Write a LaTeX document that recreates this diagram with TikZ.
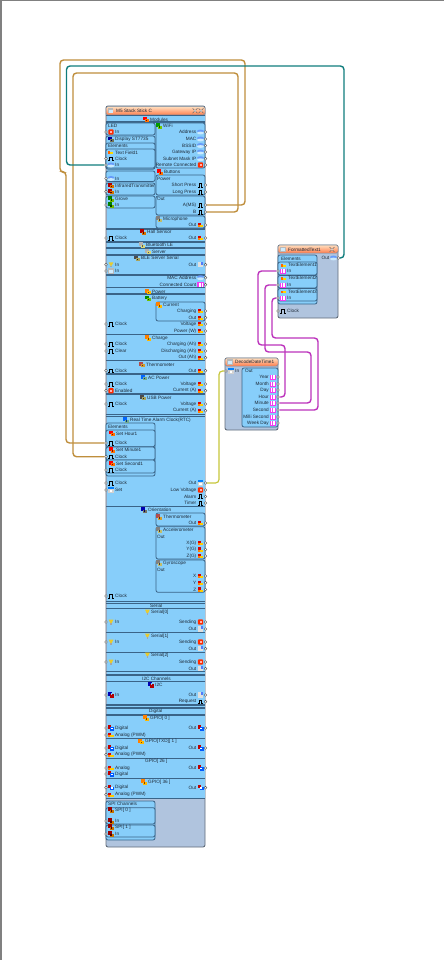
\documentclass[tikz,border=0pt]{standalone}
\usepackage{fontspec}
\setmainfont{Liberation Sans}
\usetikzlibrary{fit}

\definecolor{fond}{HTML}{B0C4DE}
\definecolor{ciel}{HTML}{87CEFA}
\definecolor{trait}{HTML}{3A6488}
\definecolor{texte}{HTML}{1E2A38}
\definecolor{filor}{HTML}{BF8E3C}
\definecolor{filvert}{HTML}{0F7C7C}
\definecolor{filmag}{HTML}{BC32BC}
\definecolor{filjaune}{HTML}{C6C63A}
\definecolor{magen}{HTML}{F23CF2}

% les icônes
\tikzset{
  pics/icoclk/.style={code={\draw[black, line width=.5pt] (-2.6,1.8)--(-1.3,1.8)--(-1.3,-1.8)--(.9,-1.8)--(.9,1.8)--(2.6,1.8);}},
  pics/icoana/.style={code={\fill[red!85!black] (-2.6,-2.2) rectangle (.4,.4); \fill[orange!40!yellow] (-1.6,0) rectangle (2.6,2.2); \fill[orange] (-2.6,.4) rectangle (-.6,2.2);}},
  pics/icodig/.style={code={\fill[red!75!black] (-3,-2.6) rectangle (.4,.6); \fill[blue!65!cyan] (-.8,-1.2) rectangle (3,2.6); \fill[white] (-.2,-.4) rectangle (1.8,1);}},
  pics/icotxt/.style={code={\fill[ciel!75!blue] (0,-.9) ellipse (3.4 and 1.5); \fill[ciel!45!white] (0,1) ellipse (3.4 and 1.4);}},
  pics/icobool/.style={code={\fill[red!65!orange, rounded corners=.8pt] (-2.6,-2.6) rectangle (2.6,2.6); \fill[white!70!red] (-.9,-1.2) rectangle (1.2,1.2);}},
  pics/icoint/.style={code={\fill[magen] (-3.2,-2.5) rectangle (3.2,2.5); \draw[white, line width=.4pt] (-1.6,-2) -- (-1.6,2) (0,-2) -- (0,2) (1.6,-2) -- (1.6,2);}},
  pics/icooct/.style={code={\fill[gray!25] (-2.6,-2.6) rectangle (2.6,2.6); \fill[ciel!60!blue] (.2,-2.6) rectangle (2.6,-.2);}},
  pics/icoser/.style={code={\fill[yellow!60!brown] (-2.4,-2.4) -- (2.4,-2.4) -- (.8,1) -- (-.8,1) -- cycle; \fill[gray!70] (-.7,.8) rectangle (.7,2.6);}},
  pics/icodate/.style={code={\fill[blue!50!cyan] (-2.6,-2.6) rectangle (2.6,-.6); \fill[gray!35] (-2.6,-.6) rectangle (2.6,2.6); \fill[white] (-1.4,.2) rectangle (1.4,1.6);}},
  pics/icoabc/.style={code={\fill[orange!80!red] (-3.6,-1) rectangle (-1.6,1.6); \fill[orange!30!yellow] (-1.2,-.4) rectangle (1.6,1.6);}},
  pics/icoi2c/.style={code={\fill[blue!70!black] (-3,-2.6) rectangle (1,1); \fill[red!70!black] (-1,-.6) rectangle (3,2.6); \fill[ciel] (-.4,-1.6) rectangle (.6,.4);}},
  pics/icosec/.style={code={\colorlet{icoc}{#1} \fill[icoc] (-3,-2.6) rectangle (.6,.8); \fill[icoc!55!yellow] (-1,-.4) rectangle (3,2.6); \fill[icoc!50!black] (-.6,.4) rectangle (.8,1.6);}},
  pics/icofen/.style={code={\fill[gray!55] (-2.8,-2.6) rectangle (2.8,2.6); \fill[ciel!40!white] (-2,-1.2) rectangle (2,1.8);}},
  pics/icoout/.style={code={\draw[gray!85!black, line width=.6pt] (-2.4,-2.4) -- (2.4,2.4) (-2.4,2.4) -- (2.4,-2.4); \fill[gray!40] (0,0) circle (1.2);}},
}

% une broche à gauche : nom, x, y, icône, texte
\newcommand{\brocheG}[5]{
  \node[broche] (#1) at (#2,#3) {};
  \pic[xshift=5pt] at (#2,#3) {#4};
  \node[etiqG, xshift=9pt] (#1t) at (#2,#3) {#5};
}
% une broche à droite : nom, x, y, icône, texte
\newcommand{\brocheD}[5]{
  \node[broche] (#1) at (#2,#3) {};
  \pic[xshift=-5pt] at (#2,#3) {#4};
  \node[etiqD, xshift=-9pt] (#1t) at (#2,#3) {#5};
}
% un titre de section : nom, x, y, icône, texte
\newcommand{\entete}[5]{
  \pic[xshift=-3.6pt] at (#2,#3) {#4};
  \node[etiqG] (#1) at (#2,#3) {#5};
}
\newcommand{\barreH}[1]{\draw[barre] (106,#1)--(205,#1);}

\begin{document}
\begin{tikzpicture}[x=1pt, y=-1pt]
% définition des styles
\tikzstyle{etiq}=[inner sep=0pt, text=texte, font=\fontsize{4.7}{5}\selectfont]
\tikzstyle{etiqG}=[etiq, anchor=west]
\tikzstyle{etiqD}=[etiq, anchor=east]
\tikzstyle{broche}=[circle, draw=black!65, fill=white, line width=.45pt, inner sep=0pt, minimum size=2.8pt]
\tikzstyle{corps}=[rectangle, draw=black!45!fond, fill=fond, line width=.9pt, rounded corners=2pt, inner sep=0pt]
\tikzstyle{bandeau}=[rectangle, draw=black!30!fond, top color=orange!25!white, bottom color=red!45!orange!70!white, line width=.5pt, rounded corners=1.5pt, inner sep=0pt]
\tikzstyle{zone}=[rectangle, fill=ciel, inner sep=0pt]
\tikzstyle{cadre}=[rectangle, draw=trait, fill=ciel, line width=.8pt, rounded corners=2pt, inner sep=0pt]
\tikzstyle{barre}=[line width=1.2pt, color=trait]
\tikzstyle{filorange}=[line width=1.4pt, color=filor, rounded corners=3.5pt]
\tikzstyle{filteal}=[line width=1.4pt, color=filvert, rounded corners=3.5pt]
\tikzstyle{filrose}=[line width=1.4pt, color=filmag, rounded corners=3.5pt]
\tikzstyle{filolive}=[line width=1.2pt, color=filjaune, rounded corners=3.5pt]

\useasboundingbox (0,0) rectangle (444,960);
\draw[line width=3pt, color=gray] (0,960)--(0,0)--(444,0);

% le grand composant
\node[corps, fit={(106,106) (205,847)}] (stick) {};
\node[zone, fit={(106.5,115) (204.5,799)}] (bleu) {};
\node[bandeau, fit={(106,106.5) (205,115)}] (stickt) {};
\pic at (110.5,110.8) {icofen};
\node[etiqG] (sticktt) at (116,110.8) {M5 Stack Stick C};
\pic at (195,110.8) {icoout};
\pic at (201,110.8) {icoout};

% les traits de séparation
\barreH{115.7} \barreH{122} \barreH{229} \barreH{242} \barreH{248} \barreH{255}
\barreH{275} \barreH{287.5} \barreH{294} \barreH{334.3} \barreH{360.7} \barreH{374}
\barreH{394} \barreH{414.2} \barreH{416.6} \barreH{506.7} \barreH{601.7} \barreH{603.4}
\barreH{608.5} \barreH{632.3} \barreH{652.3} \barreH{671.7} \barreH{675} \barreH{681.7}
\barreH{705} \barreH{708} \barreH{715} \barreH{738.3} \barreH{758.3} \barreH{778.3} \barreH{798.5}

% les cadres de gauche
\node[cadre, fit={(106,123) (155,135)}] (led) {};
\node[cadre, fit={(106,136) (155,169)}] (display) {};
\node[cadre, fit={(106,143) (155,169)}] (elem) {};
\node[cadre, fit={(106,149) (155,168)}] (field) {};
\node[cadre, fit={(106,171) (155,181.5)}] (entree) {};
\node[cadre, fit={(106,183) (155,195)}] (infra) {};
\node[cadre, fit={(106,196) (155,208)}] (grove) {};
\node[cadre, fit={(106,423) (155,476)}] (rtcelem) {};
\node[cadre, fit={(106,430) (155,446.7)}] (hourp) {};
\node[cadre, fit={(106,447) (155,460)}] (minp) {};
\node[cadre, fit={(106,460) (155,473)}] (secp) {};
\node[cadre, fit={(106,801) (155,840)}] (spip) {};
\node[cadre, fit={(106,807.7) (155,824)}] (spiz) {};
\node[cadre, fit={(106,825) (155,837)}] (spiu) {};

% les cadres de droite
\node[cadre, fit={(156,123) (205,168)}] (wifi) {};
\node[cadre, fit={(156,175) (205,195)}] (power) {};
\node[cadre, fit={(156,196) (205,215)}] (sortie) {};
\node[cadre, fit={(156,216) (205,228)}] (micro) {};
\node[cadre, fit={(156,302) (205,321)}] (current) {};
\node[cadre, fit={(156,513) (205,526)}] (thermo) {};
\node[cadre, fit={(156,526.7) (205,559)}] (accel) {};
\node[cadre, fit={(156,560) (205,592.3)}] (gyro) {};

% les titres
\entete{modules}{150}{119.5}{icosec=red}{Modules}
\node[etiqG] (ledt) at (108,126) {LED};
\entete{wifit}{163}{126}{icosec=green!60!black}{WiFi}
\entete{displayt}{115}{139.5}{icosec=blue!60!black}{Display ST7735}
\node[etiqG] (elemt) at (108,146) {Elements};
\entete{fieldt}{115}{152.5}{icoabc}{Text Field1}
\entete{infrat}{115}{185.7}{icosec=red!70!black}{InfraredTransmitter}
\entete{grovet}{115}{199}{icosec=green!50!black}{Grove}
\entete{buttons}{164}{172}{icosec=red}{Buttons}
\node[etiqG] (powert) at (157,178.5) {Power};
\node[etiqG] (sortiet) at (157,199) {Out};
\entete{microt}{163}{219}{icosec=gray}{Microphone}
\entete{hall}{147}{232}{icosec=red!70!black}{Hall Sensor}
\entete{ble}{146}{245}{icosec=gray!60}{Bluetooth LE}
\entete{server}{152}{251.7}{icosec=gray!60}{Server}
\entete{bleserial}{141}{258.3}{icosec=black!70}{BLE Server Serial}
\entete{powertop}{152}{291.7}{icosec=orange}{Power}
\entete{battery}{152}{298.3}{icosec=green!55!black}{Battery}
\entete{currentt}{163}{305}{icosec=orange}{Current}
\entete{charge}{152}{338}{icosec=orange}{Charge}
\entete{thermot}{146}{364.7}{icosec=red!40!gray}{Thermometer}
\entete{acpower}{148}{377.7}{icosec=blue!60!cyan}{AC Power}
\entete{usbpower}{147}{397.7}{icosec=black!70}{USB Power}
\entete{rtc}{130}{420}{icosec=blue!60!cyan}{Real Time Alarm Clock(RTC)}
\node[etiqG] (rtcelemt) at (108,427) {Elements};
\entete{hourt}{116}{433.5}{icosec=red}{Set Hour1}
\entete{mint}{116}{450}{icosec=red}{Set Minute1}
\entete{sect}{116}{463.7}{icosec=red}{Set Second1}
\entete{orient}{148}{510}{icosec=blue!70!black}{Orientation}
\entete{thermoin}{163}{517}{icosec=red!40!gray}{Thermometer}
\entete{accelt}{163}{530}{icosec=gray}{Accelerometer}
\node[etiqG] (accelo) at (157,536.7) {Out};
\entete{gyrot}{163}{563}{icosec=gray}{Gyroscope}
\node[etiqG] (gyroo) at (157,570) {Out};
\node[etiqG] (serialt) at (150,606) {Serial};
\entete{serialz}{151}{612}{icoser}{Serial[0]}
\entete{serialu}{151}{636}{icoser}{Serial[1]}
\entete{seriald}{151}{655}{icoser}{Serial[2]}
\node[etiqG] (i2cch) at (142,678.7) {I2C Channels};
\entete{i2ct}{155}{685}{icoi2c}{I2C}
\node[etiqG] (digitalt) at (149,711.7) {Digital};
\entete{gpioz}{150}{718}{icosec=orange}{GPIO[ 0 ]}
\entete{gpiou}{145}{741.7}{icosec=orange}{GPIO[TXD][ 1 ]}
\node[etiqG] (gpiov) at (145,761.7) {GPIO[ 26 ]};
\entete{gpiot}{148}{782}{icosec=orange}{GPIO[ 36 ]}
\node[etiqG] (spich) at (108,804) {SPI Channels};
\entete{spizt}{115}{810}{icosec=red!60!black}{SPI[ 0 ]}
\entete{spiut}{115}{827}{icosec=red!60!black}{SPI[ 1 ]}

% les broches de gauche
\brocheG{ledin}{106}{132}{icobool}{In}
\brocheG{fieldclk}{106}{158.7}{icoclk}{Clock}
\brocheG{fieldin}{106}{165}{icotxt}{In}
\brocheG{entin}{106}{178.5}{icotxt}{In}
\brocheG{infrain}{106}{191.7}{icosec=red!70!black}{In}
\brocheG{grovein}{106}{205}{icosec=green!50!black}{In}
\brocheG{hallclk}{106}{238}{icoclk}{Clock}
\brocheG{blein}{106}{264.7}{icoser}{In}
\brocheG{bleinb}{106}{271}{icofen}{In}
\brocheG{batclk}{106}{324}{icoclk}{Clock}
\brocheG{chgclk}{106}{344}{icoclk}{Clock}
\brocheG{chgclr}{106}{351}{icoclk}{Clear}
\brocheG{thclk}{106}{370.7}{icoclk}{Clock}
\brocheG{acclk}{106}{384}{icoclk}{Clock}
\brocheG{acen}{106}{390.7}{icobool}{Enabled}
\brocheG{usbclk}{106}{404}{icoclk}{Clock}
\brocheG{hourclk}{106}{443}{icoclk}{Clock}
\brocheG{minclk}{106}{456.7}{icoclk}{Clock}
\brocheG{secclk}{106}{470}{icoclk}{Clock}
\brocheG{rtcclk}{106}{483}{icoclk}{Clock}
\brocheG{rtcset}{106}{490}{icodate}{Set}
\brocheG{oriclk}{106}{596}{icoclk}{Clock}
\brocheG{serzin}{106}{622}{icoser}{In}
\brocheG{seruin}{106}{642}{icoser}{In}
\brocheG{serdin}{106}{662}{icoser}{In}
\brocheG{i2cin}{106}{695}{icoi2c}{In}
\brocheG{gpzdig}{106}{728}{icodig}{Digital}
\brocheG{gpzana}{106}{735}{icoana}{Analog (PWM)}
\brocheG{gpudig}{106}{748}{icodig}{Digital}
\brocheG{gpuana}{106}{754.7}{icoana}{Analog (PWM)}
\brocheG{gpvana}{106}{768}{icoana}{Analog}
\brocheG{gpvdig}{106}{774}{icodig}{Digital}
\brocheG{gptdig}{106}{787.7}{icodig}{Digital}
\brocheG{gptana}{106}{794.7}{icoana}{Analog (PWM)}
\brocheG{spizin}{106}{821}{icosec=red!60!black}{In}
\brocheG{spiuin}{106}{834}{icosec=red!60!black}{In}

% les broches de droite
\brocheD{wfaddr}{205.5}{132}{icotxt}{Address}
\brocheD{wfmac}{205.5}{139}{icotxt}{MAC}
\brocheD{wfbssid}{205.5}{145.5}{icotxt}{BSSID}
\brocheD{wfgate}{205.5}{152}{icotxt}{Gateway IP}
\brocheD{wfmask}{205.5}{158.7}{icotxt}{Subnet Mask IP}
\brocheD{wfrem}{205.5}{165}{icobool}{Remote Connected}
\brocheD{btshort}{205.5}{185}{icoclk}{Short Press}
\brocheD{btlong}{205.5}{192}{icoclk}{Long Press}
\brocheD{btams}{205.5}{205}{icoclk}{A(MS)}
\brocheD{btb}{205.5}{212}{icoclk}{B}
\brocheD{micout}{205.5}{225}{icoana}{Out}
\brocheD{hallout}{205.5}{238}{icoana}{Out}
\brocheD{bleout}{205.5}{264.7}{icooct}{Out}
\brocheD{blemac}{205.5}{277.7}{icotxt}{MAC Address}
\brocheD{blecnt}{205.5}{284.7}{icoint}{Connected Count}
\brocheD{curchg}{205.5}{311}{icoana}{Charging}
\brocheD{curout}{205.5}{317.7}{icoana}{Out}
\brocheD{batvolt}{205.5}{324}{icoana}{Voltage}
\brocheD{batpow}{205.5}{331}{icoana}{Power (W)}
\brocheD{chgah}{205.5}{344}{icoana}{Charging (Ah)}
\brocheD{dischah}{205.5}{351}{icoana}{Discharging (Ah)}
\brocheD{outah}{205.5}{357.7}{icoana}{Out (Ah)}
\brocheD{thout}{205.5}{370.7}{icoana}{Out}
\brocheD{acvolt}{205.5}{384}{icoana}{Voltage}
\brocheD{accur}{205.5}{390.7}{icoana}{Current (A)}
\brocheD{usbvolt}{205.5}{404}{icoana}{Voltage}
\brocheD{usbcur}{205.5}{410.7}{icoana}{Current (A)}
\brocheD{rtcout}{205.5}{483}{icodate}{Out}
\brocheD{rtclow}{205.5}{490}{icobool}{Low Voltage}
\brocheD{rtcalarm}{205.5}{496.5}{icoclk}{Alarm}
\brocheD{rtctimer}{205.5}{503}{icoclk}{Timer}
\brocheD{oriout}{205.5}{523}{icoana}{Out}
\brocheD{acx}{205.5}{543}{icoana}{X(G)}
\brocheD{acy}{205.5}{549.5}{icoana}{Y(G)}
\brocheD{acz}{205.5}{556}{icoana}{Z(G)}
\brocheD{gyx}{205.5}{576}{icoana}{X}
\brocheD{gyy}{205.5}{582.7}{icoana}{Y}
\brocheD{gyz}{205.5}{589.5}{icoana}{Z}
\brocheD{serzsend}{205.5}{622}{icobool}{Sending}
\brocheD{serzout}{205.5}{629}{icooct}{Out}
\brocheD{serusend}{205.5}{642}{icobool}{Sending}
\brocheD{seruout}{205.5}{648.7}{icooct}{Out}
\brocheD{serdsend}{205.5}{662}{icobool}{Sending}
\brocheD{serdout}{205.5}{668.7}{icooct}{Out}
\brocheD{i2cout}{205.5}{695}{icooct}{Out}
\brocheD{i2creq}{205.5}{701.7}{icoclk}{Request}
\brocheD{gpzout}{205.5}{728}{icodig}{Out}
\brocheD{gpuout}{205.5}{748}{icodig}{Out}
\brocheD{gpvout}{205.5}{768}{icodig}{Out}
\brocheD{gptout}{205.5}{787.7}{icodig}{Out}

% le composant FormattedText1
\node[corps, fit={(278,245) (338,318)}] (format) {};
\node[bandeau, fit={(278,245) (338,253)}] (formatb) {};
\pic at (283,249.5) {icofen};
\node[etiqG] (formatt) at (288,249.5) {FormattedText1};
\pic at (332,249.5) {icoout};
\node[cadre, fit={(278,255) (317,304)}] (fmtelem) {};
\node[etiqG] (fmtelemt) at (281,258.5) {Elements};
\node[cadre, fit={(278,262) (317,275)}] (elemu) {};
\node[cadre, fit={(278,275.5) (317,288)}] (elemd) {};
\node[cadre, fit={(278,288.5) (317,301)}] (elemt) {};
\entete{elemut}{288}{265}{icoabc}{TextElement1}
\entete{elemdt}{288}{278.3}{icoabc}{TextElement2}
\entete{elemtt}{288}{291.7}{icoabc}{TextElement3}
\brocheG{elemuin}{278}{271}{icoint}{In}
\brocheG{elemdin}{278}{285}{icoint}{In}
\brocheG{elemtin}{278}{298}{icoint}{In}
\brocheG{fmtclk}{278}{311}{icoclk}{Clock}
\brocheD{fmtout}{338.5}{258}{icotxt}{Out}

% le composant DecodeDateTime1
\node[corps, fit={(225,358) (278,430)}] (decode) {};
\node[bandeau, fit={(225,358) (278,366)}] (decodeb) {};
\pic at (230,362) {icofen};
\node[etiqG] (decodet) at (235,362) {DecodeDateTime1};
\node[cadre, fit={(242,368) (278,427)}] (decout) {};
\node[etiqG] (decoutt) at (245,371) {Out};
\brocheG{decin}{226}{371}{icodate}{In}
\brocheD{year}{278}{377}{icoint}{Year}
\brocheD{month}{278}{384}{icoint}{Month}
\brocheD{day}{278}{390}{icoint}{Day}
\brocheD{hour}{278}{397}{icoint}{Hour}
\brocheD{minute}{278}{403}{icoint}{Minute}
\brocheD{second}{278}{410}{icoint}{Second}
\brocheD{milli}{278}{417}{icoint}{Milli Second}
\brocheD{week}{278}{423}{icoint}{Week Day}

% les fils
\draw[filorange] (btams)--(245,205)--(245,60)--(60,60)--(60,172)--(66,172)--(66,443)--(hourclk);
\draw[filorange] (btb)--(238,212)--(238,73)--(73,73)--(73,456.7)--(minclk);
\draw[filteal] (fmtout)--(344,258)--(344,66)--(66.5,66)--(66.5,165)--(fieldin);
\draw[filolive] (rtcout)--(219,483)--(219,371)--(decin);
\draw[filrose] (hour)--(285,397)--(285,345)--(258,345)--(258,271)--(elemuin);
\draw[filrose] (minute)--(311,403)--(311,352)--(265,352)--(265,285)--(elemdin);
\draw[filrose] (second)--(318,410)--(318,338)--(272,338)--(272,298)--(elemtin);
\end{tikzpicture}
\end{document}
